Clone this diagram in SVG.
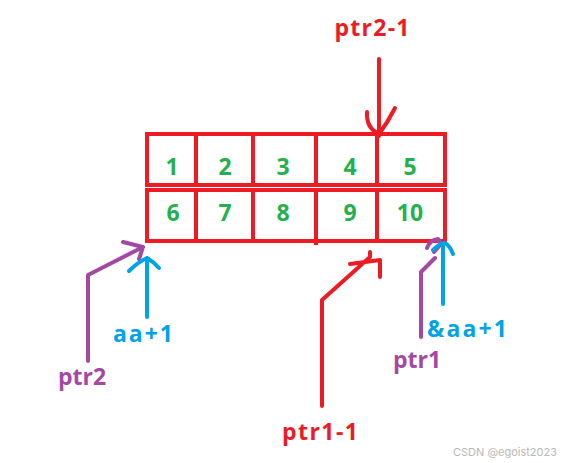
<svg xmlns="http://www.w3.org/2000/svg" width="562" height="463" viewBox="0 0 562 463">
<style>
.cell{fill:none;stroke:#ed1c24;stroke-width:4}
.num{font-family:"Open Sans","Liberation Sans",sans-serif;font-weight:bold;font-size:23px;fill:#22b14c;text-anchor:middle}
.lbl{font-family:"Open Sans","Liberation Sans",sans-serif;font-weight:bold;font-size:23px;text-anchor:middle}
.red{stroke:#ed1c24}.pur{stroke:#a349a4}.blu{stroke:#00a2e8}
.c{fill:none;stroke-width:4;stroke-linecap:round;stroke-linejoin:round}
</style>
<rect width="562" height="463" fill="#fff"/>
<g id="row1">
<rect class="cell" x="147" y="134" width="298" height="51"/>
<line class="cell" x1="196" y1="134" x2="196" y2="185"/>
<line class="cell" x1="253" y1="132" x2="253" y2="185"/>
<line class="cell" x1="316" y1="134" x2="316" y2="185"/>
<line class="cell" x1="377" y1="134" x2="377" y2="185"/>
<text class="num" x="172" y="175">1</text>
<text class="num" x="225" y="175">2</text>
<text class="num" x="283" y="175">3</text>
<text class="num" x="350" y="175">4</text>
<text class="num" x="410" y="175">5</text>
</g>
<g id="row2">
<rect class="cell" x="147" y="190" width="298" height="51"/>
<line class="cell" x1="196" y1="190" x2="196" y2="241"/>
<line class="cell" x1="253" y1="190" x2="253" y2="241"/>
<line class="cell" x1="316" y1="190" x2="316" y2="245"/>
<line class="cell" x1="377" y1="190" x2="377" y2="241"/>
<text class="num" x="173" y="221">6</text>
<text class="num" x="225" y="221">7</text>
<text class="num" x="283" y="221">8</text>
<text class="num" x="350" y="221">9</text>
<text class="num" x="410" y="221">10</text>
</g>
<g id="connectors">
<path class="c red" d="M379 59 V136 M367 112 Q366 128 379 134 Q388 122 395 108"/>
<path class="c pur" d="M88 361 V275 L143 247 M123 242 L143 247 L139 259"/>
<path class="c blu" d="M147 317 V258 M129 271 Q138 262 147 258 Q154 262 159 268"/>
<path class="c red" d="M322 406 V300 L370 257 V252 M350 264 L380 260 V277"/>
<path class="c pur" d="M421 337 V272 L435 258 M427 248 Q430 240 438 239 L441 244 L434 252"/>
<path class="c blu" d="M443 304 V243 M433 250 Q440 243 445 243 Q450 246 453 254"/>
</g>
<g id="labels">
<text class="lbl" x="372" y="36" fill="#ed1c24" textLength="75" lengthAdjust="spacing">ptr2-1</text>
<text class="lbl" x="143" y="342" fill="#00a2e8" textLength="60" lengthAdjust="spacing">aa+1</text>
<text class="lbl" x="82" y="385" fill="#a349a4">ptr2</text>
<text class="lbl" x="467" y="337" fill="#00a2e8" textLength="80" lengthAdjust="spacing">&amp;aa+1</text>
<text class="lbl" x="417" y="368" fill="#a349a4">ptr1</text>
<text class="lbl" x="320" y="440" fill="#ed1c24" textLength="76" lengthAdjust="spacing">ptr1-1</text>
</g>
<text x="557" y="456" font-family="Inter,'Liberation Sans',sans-serif" font-size="11" fill="#b8b8b8" text-anchor="end">CSDN @egoist2023</text>
</svg>
